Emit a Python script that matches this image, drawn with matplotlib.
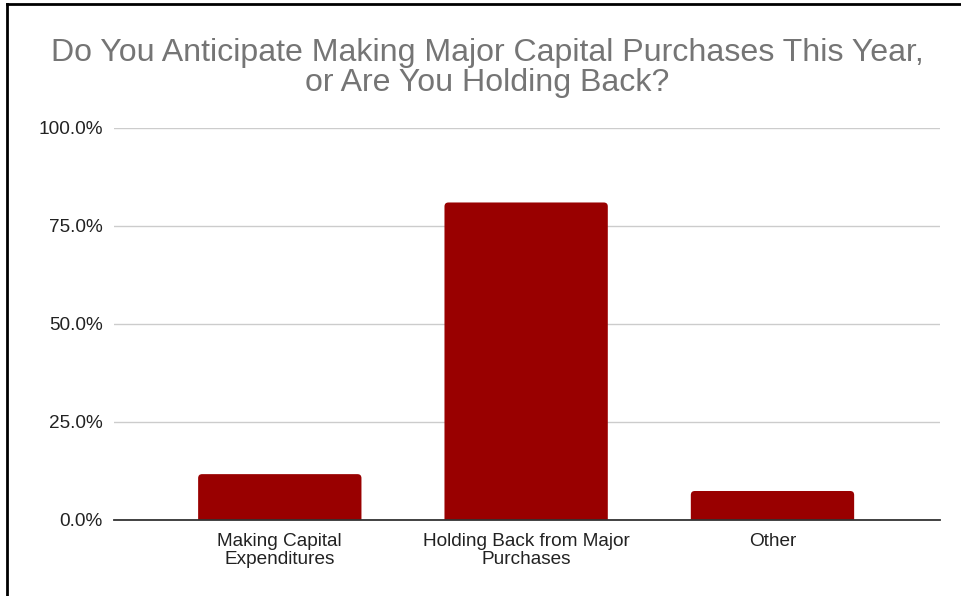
import matplotlib
matplotlib.use("Agg")
import matplotlib.pyplot as plt
from matplotlib.patches import FancyBboxPatch
from matplotlib.lines import Line2D
from matplotlib.ticker import FuncFormatter

plt.rcParams['font.family'] = ['Liberation Sans', 'DejaVu Sans']

categories = ["Making Capital\nExpenditures", "Holding Back from Major\nPurchases", "Other"]
values = [11.7, 81.0, 7.4]
y_ticks = [0, 25, 50, 75, 100]
title = "Do You Anticipate Making Major Capital Purchases This Year,\nor Are You Holding Back?"

bar_color = "#990000"

fig = plt.figure(figsize=(9.61, 5.96), dpi=100)
ax = fig.add_axes([114 / 961, 76 / 596, 826 / 961, 392 / 596])

bars = ax.bar(range(len(categories)), values, width=0.663, color=bar_color, zorder=3)

# swap plain bars for ones with rounded top corners
x_px = 826 / 3.353
y_px = 392 / 100
r = 4
for b in bars:
    x0, w, h = b.get_x(), b.get_width(), b.get_height()
    b.set_visible(False)
    rb = FancyBboxPatch((x0, -5), w, h + 5,
                        boxstyle="round,pad=0,rounding_size=%f" % (r / x_px),
                        mutation_aspect=(r / y_px) / (r / x_px),
                        facecolor=bar_color, edgecolor="none", zorder=3)
    ax.add_patch(rb)

ax.set_xlim(-0.673, 2.68)
ax.set_ylim(0, 100)
ax.set_yticks(y_ticks)
ax.yaxis.set_major_formatter(FuncFormatter(lambda v, p: "%.1f%%" % v))
ax.set_xticks(range(len(categories)))
ax.set_xticklabels(categories, linespacing=1.1)
ax.tick_params(axis="both", length=0, labelsize=13.7, labelcolor="#222222")
ax.tick_params(axis="y", pad=8)
ax.tick_params(axis="x", pad=9)
ax.grid(axis="y", color="#cccccc", linewidth=1, zorder=0)
for s in ["top", "right", "left"]:
    ax.spines[s].set_visible(False)
ax.spines["bottom"].set_color("#333333")
ax.spines["bottom"].set_linewidth(1.3)
ax.spines["bottom"].set_zorder(4)

fig.text(487 / 961, 1 - 68 / 596, title, ha="center", va="center",
         fontsize=23.1, color="#757575", linespacing=1.0)

# black frame on the left and top edges
fig.add_artist(Line2D([7 / 961, 7 / 961], [0, 1 - 4 / 596], color="black", linewidth=2,
                      transform=fig.transFigure))
fig.add_artist(Line2D([7 / 961, 1], [1 - 4 / 596, 1 - 4 / 596], color="black", linewidth=2,
                      transform=fig.transFigure))

fig.savefig("out.png", dpi=100)
